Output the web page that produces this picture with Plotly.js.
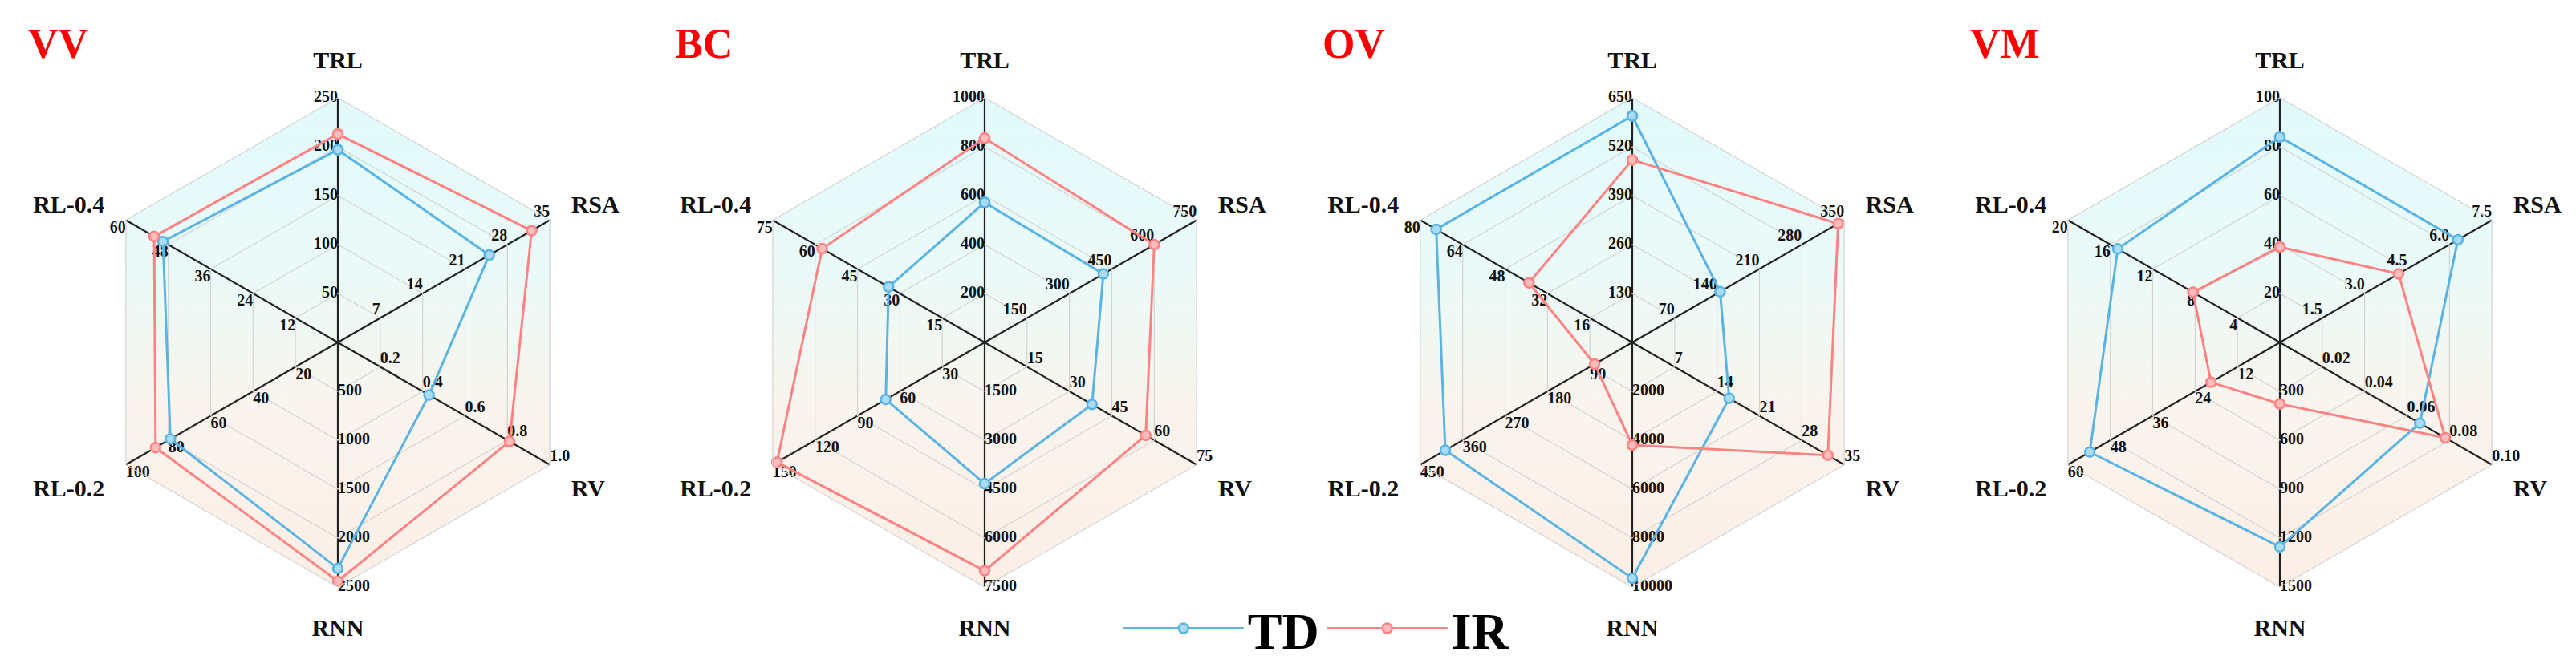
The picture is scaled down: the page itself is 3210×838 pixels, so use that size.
<!DOCTYPE html>
<html><head><meta charset="utf-8">
<script src="https://cdn.plot.ly/plotly-3.0.1.min.js"></script>
<style>html,body{margin:0;padding:0;background:#fff;} #chart{width:3210px;height:838px;}</style>
</head><body><div id="chart"></div>
<script>
// ---------- data ----------
const axes = ['TRL', 'RSA', 'RV', 'RNN', 'RL-0.2', 'RL-0.4'];
const panelNames = ['VV', 'BC', 'OV', 'VM'];
const seriesNames = ['TD', 'IR'];

// axis maxima (outer ring value) per panel, in axes order
const maxVV = [250, 35, 1.0, 2500, 100, 60];
const maxBC = [1000, 750, 75, 7500, 150, 75];
const maxOV = [650, 350, 35, 10000, 450, 80];
const maxVM = [100, 7.5, 0.10, 1500, 60, 20];

// tick labels per axis (rings at 20%,40%,60%,80%,100%)
const ticksVV = [['50','100','150','200','250'], ['7','14','21','28','35'], ['0.2','0.4','0.6','0.8','1.0'], ['500','1000','1500','2000','2500'], ['20','40','60','80','100'], ['12','24','36','48','60']];
const ticksBC = [['200','400','600','800','1000'], ['150','300','450','600','750'], ['15','30','45','60','75'], ['1500','3000','4500','6000','7500'], ['30','60','90','120','150'], ['15','30','45','60','75']];
const ticksOV = [['130','260','390','520','650'], ['70','140','210','280','350'], ['7','14','21','28','35'], ['2000','4000','6000','8000','10000'], ['90','180','270','360','450'], ['16','32','48','64','80']];
const ticksVM = [['20','40','60','80','100'], ['1.5','3.0','4.5','6.0','7.5'], ['0.02','0.04','0.06','0.08','0.10'], ['300','600','900','1200','1500'], ['12','24','36','48','60'], ['4','8','12','16','20']];

// series values, axes order
const tdVV = [197, 25, 0.43, 2310, 79, 49.5];
const irVV = [213, 32, 0.81, 2440, 86, 52];
const tdBC = [572, 420, 38, 4330, 70, 34];
const irBC = [835, 600, 57, 7000, 147, 57.5];
const tdOV = [602, 145, 16, 9640, 397, 74];
const irOV = [485, 340, 32.3, 4200, 80, 39];
const tdVM = [84, 6.3, 0.066, 1254, 53.8, 15.3];
const irVM = [39, 4.2, 0.078, 377, 19.5, 8.2];

const ringFractions = [0.2, 0.4, 0.6, 0.8, 1.0];

// ---------- styling ----------
const W = 3210, H = 838;
const centersX = [421, 1227, 2034, 2841];
const centerY = 427, R = 305;
const FONT = 'Liberation Serif, Times New Roman, serif';
const colTD = '#5ab4e3', colIR = '#ff8282';
const fillTD = '#a9dbf3', fillIR = '#ffbcbc';
const BG = 'rgb(238, 248, 245)';
const tickPos = ['middle left', 'top left', 'top right', 'middle right', 'bottom right', 'bottom left'];

const panels = [
  {name: 'VV', max: maxVV, ticks: ticksVV, td: tdVV, ir: irVV},
  {name: 'BC', max: maxBC, ticks: ticksBC, td: tdBC, ir: irBC},
  {name: 'OV', max: maxOV, ticks: ticksOV, td: tdOV, ir: irOV},
  {name: 'VM', max: maxVM, ticks: ticksVM, td: tdVM, ir: irVM}
];

const data = [];
const layout = {
  width: W, height: H,
  margin: {l: 0, r: 0, t: 0, b: 0},
  paper_bgcolor: '#ffffff',
  showlegend: true,
  legend: {
    orientation: 'h', x: 0.511, xanchor: 'center', y: (H - 784) / H, yanchor: 'middle',
    font: {family: FONT, size: 64, color: '#000', weight: 'bold'},
    itemwidth: 150, bgcolor: 'rgba(0,0,0,0)'
  },
  annotations: []
};

panels.forEach((p, k) => {
  const pid = k === 0 ? 'polar' : 'polar' + (k + 1);
  const cx = centersX[k];
  layout[pid] = {
    domain: {x: [(cx - R) / W, (cx + R) / W], y: [(H - centerY - R) / H, (H - centerY + R) / H]},
    gridshape: 'linear',
    bgcolor: BG,
    radialaxis: {range: [0, 1], tickvals: ringFractions, showticklabels: false, ticks: '',
                 showline: false, gridcolor: '#d3d3d3', gridwidth: 1.2},
    angularaxis: {type: 'category', categoryarray: axes, rotation: 90, direction: 'clockwise',
                  gridcolor: '#222222', gridwidth: 2.2, showline: true, linecolor: '#d3d3d3', linewidth: 1.2,
                  ticks: 'outside', ticklen: 24, tickcolor: 'rgba(0,0,0,0)',
                  tickfont: {family: FONT, size: 30, color: '#111', weight: 'bold'}}
  };
  // panel title
  layout.annotations.push({
    text: p.name, xref: 'paper', yref: 'paper', x: (cx - 388) / W, y: (H - 54) / H,
    xanchor: 'left', yanchor: 'middle', showarrow: false,
    font: {family: FONT, size: 52, color: '#ff0000', weight: 'bold'}
  });
  // tick label text traces
  axes.forEach((a, i) => {
    data.push({
      type: 'scatterpolar', subplot: pid, mode: 'text',
      r: ringFractions, theta: ringFractions.map(() => a), text: p.ticks[i],
      textposition: tickPos[i], cliponaxis: false, hoverinfo: 'skip', showlegend: false,
      textfont: {family: FONT, size: 20, color: '#111', weight: 'bold'}
    });
  });
  data.push({
    type: 'scatterpolar', subplot: pid, mode: 'text', r: [0], theta: [axes[0]], text: ['0'],
    textposition: 'middle left', cliponaxis: false, hoverinfo: 'skip', showlegend: false,
    textfont: {family: FONT, size: 20, color: '#111', weight: 'bold'}
  });
  // series
  [[p.td, 'TD', colTD, fillTD], [p.ir, 'IR', colIR, fillIR]].forEach(([vals, nm, c, fc]) => {
    const rr = vals.map((v, i) => v / p.max[i]);
    data.push({
      type: 'scatterpolar', subplot: pid, mode: 'lines+markers', name: nm,
      r: rr.concat([rr[0]]), theta: axes.concat([axes[0]]),
      line: {color: c, width: 3},
      marker: {size: 12, color: fc, line: {color: c, width: 2.5}},
      cliponaxis: false, showlegend: k === 0, legendgroup: nm
    });
  });
});

Plotly.newPlot('chart', data, layout, {staticPlot: true}).then(() => {
  const svg = document.querySelector('#chart .main-svg');
  const NS = 'http://www.w3.org/2000/svg';
  let defs = svg.querySelector('defs');
  if (!defs) { defs = document.createElementNS(NS, 'defs'); svg.insertBefore(defs, svg.firstChild); }
  const g = document.createElementNS(NS, 'linearGradient');
  g.setAttribute('id', 'hexgrad');
  g.setAttribute('x1', '0'); g.setAttribute('y1', '0'); g.setAttribute('x2', '0'); g.setAttribute('y2', '1');
  [['0', '#e2fafb'], ['0.35', '#eafaf8'], ['0.5', '#f2f7f2'], ['0.62', '#f9f4ee'], ['1', '#fcefe6']].forEach(([o, c]) => {
    const s = document.createElementNS(NS, 'stop');
    s.setAttribute('offset', o); s.setAttribute('stop-color', c);
    g.appendChild(s);
  });
  defs.appendChild(g);
  document.querySelectorAll('#chart svg path').forEach(el => {
    const f = (el.style.fill || '').replace(/\s/g, '');
    if (f === BG.replace(/\s/g, '')) el.style.fill = 'url(#hexgrad)';
  });
});
</script>
</body></html>
